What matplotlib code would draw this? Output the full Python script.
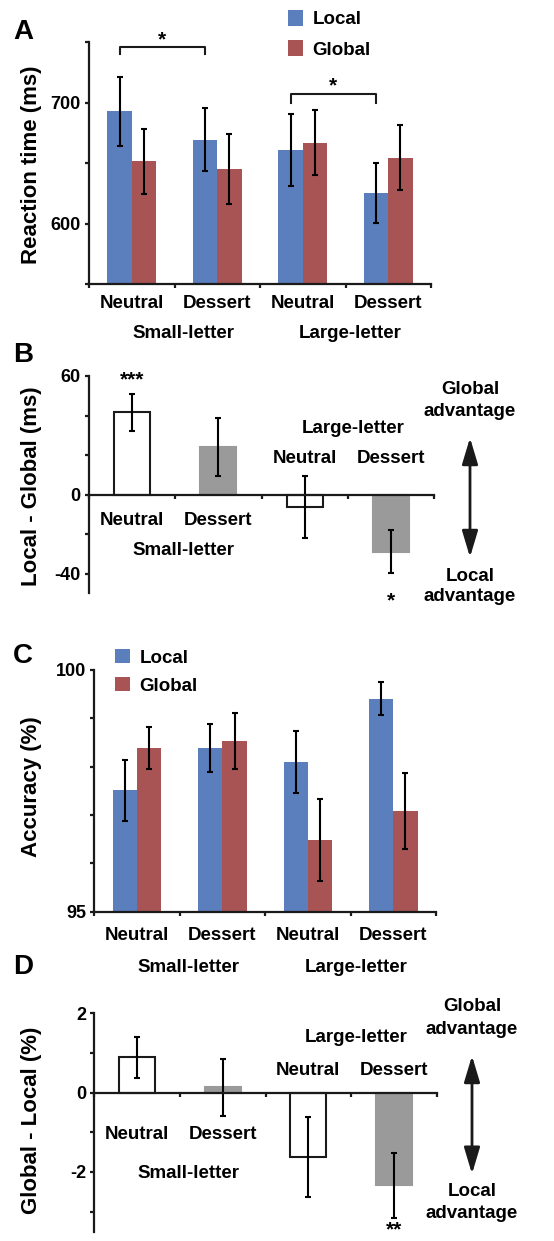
import matplotlib
matplotlib.use('Agg')
import matplotlib.pyplot as plt
import matplotlib.transforms as mtransforms
from matplotlib.patches import Patch
import numpy as np

plt.rcParams['font.family'] = ['Liberation Sans', 'DejaVu Sans']
plt.rcParams['font.weight'] = 'bold'
plt.rcParams['axes.unicode_minus'] = False

# ---------------- data ----------------
conditions = ['Neutral', 'Dessert', 'Neutral', 'Dessert']
groups = ['Small-letter', 'Large-letter']
series = ['Local', 'Global']

rt_local = [692.8, 669.4, 660.9, 625.3]
rt_local_err = [28.6, 25.8, 30.0, 25.0]
rt_global = [651.5, 645.2, 666.7, 654.3]
rt_global_err = [27.0, 29.0, 27.0, 27.0]

rt_diff = [41.7, 24.2, -6.4, -28.9]
rt_diff_err = [9.3, 14.6, 15.7, 11.0]
rt_diff_sig = ['***', '', '', '*']

acc_local = [97.51, 98.39, 98.09, 99.41]
acc_local_err = [0.63, 0.49, 0.64, 0.345]
acc_global = [98.39, 98.53, 96.49, 97.08]
acc_global_err = [0.44, 0.58, 0.85, 0.78]

acc_diff = [0.89, 0.13, -1.63, -2.34]
acc_diff_err = [0.525, 0.72, 1.01, 0.81]
acc_diff_sig = ['', '', '', '**']

rt_yticks = [550, 600, 650, 700, 750]
rt_yticklabels = ['', '600', '', '700', '']
rtd_yticks = [-40, -20, 0, 20, 40, 60]
rtd_yticklabels = ['-40', '', '0', '', '', '60']
acc_yticks = [95, 96, 97, 98, 99, 100]
acc_yticklabels = ['95', '', '', '', '', '100']
accd_yticks = [-3, -2, -1, 0, 1, 2]
accd_yticklabels = ['', '-2', '', '0', '', '2']

# ---------------- style ----------------
BLUE = '#5b7fbc'
RED = '#a95454'
GRAY = '#9a9a9a'
DARK = '#1a1a1a'
FS = 13.5

W, H = 554, 1241
fig = plt.figure(figsize=(W / 100, H / 100), dpi=100)


def fx(x):
    return x / W


def fy(y):
    return 1 - y / H


def add_ax(left, top, right, bottom):
    return fig.add_axes([fx(left), fy(bottom), (right - left) / W, (bottom - top) / H])


def style(ax, yticks, ylabels, zero_axis=False):
    for s in ['top', 'right']:
        ax.spines[s].set_visible(False)
    for s in ['left', 'bottom']:
        ax.spines[s].set_linewidth(1.6)
        ax.spines[s].set_color(DARK)
    if zero_axis:
        ax.spines['bottom'].set_position(('data', 0))
    ax.set_xlim(-0.5, 3.5)
    ax.set_xticks([-0.5, 0.5, 1.5, 2.5, 3.5])
    ax.set_xticklabels([])
    ax.set_yticks(yticks)
    ax.set_yticklabels(ylabels)
    ax.tick_params(axis='both', direction='out', length=3, width=1.6, color=DARK,
                   labelsize=13, pad=3)
    ax.patch.set_alpha(0)


def fig_text(x, y, s, size=FS, **kw):
    fig.text(fx(x), fy(y), s, ha='center', va='center', fontsize=size,
             fontweight='bold', **kw)


def labels_at(ax, xs, labs, ypix, size=FS):
    tr = mtransforms.blended_transform_factory(ax.transData, fig.transFigure)
    for xv, lab in zip(xs, labs):
        ax.text(xv, fy(ypix + 2), lab, transform=tr, ha='center', va='center',
                fontsize=size, fontweight='bold', clip_on=False)


def arrow(x, y0, y1):
    fig.patches.append(matplotlib.patches.FancyArrowPatch(
        (fx(x), fy(y0)), (fx(x), fy(y1)), transform=fig.transFigure,
        arrowstyle='<|-|>,head_length=1.0,head_width=0.3', mutation_scale=16,
        color=DARK, lw=2.0))


ekw = dict(ecolor='black', elinewidth=1.5, capsize=2.5, capthick=1.5)
x = np.arange(4)
w = 0.285
wd = 0.42

# ---------------- Panel A ----------------
axA = add_ax(89, 42, 431, 284)
style(axA, rt_yticks, rt_yticklabels)
axA.set_ylim(550, 750)
axA.bar(x - w / 2, rt_local, w, yerr=rt_local_err, color=BLUE, error_kw=ekw)
axA.bar(x + w / 2, rt_global, w, yerr=rt_global_err, color=RED, error_kw=ekw)
# significance brackets
for (i, j, yb, ytick, ys) in [(0, 1, 745.5, 740, 752), (2, 3, 707, 700, 713.5)]:
    xa, xb = x[i] - w / 2, x[j] - w / 2
    axA.plot([xa, xa, xb, xb], [ytick, yb, yb, ytick], color=DARK, lw=1.5, clip_on=False)
    axA.text((xa + xb) / 2, ys, '*', ha='center', va='center', fontsize=15,
             fontweight='bold', clip_on=False)
labels_at(axA, x, conditions, 301.7)
labels_at(axA, [0.6, 2.56], groups, 331.7)
fig.legend([Patch(facecolor=BLUE), Patch(facecolor=RED)], series,
           loc='upper left', bbox_to_anchor=(fx(288), fy(10)), frameon=False,
           fontsize=FS, handlelength=0.8, handleheight=0.9, handletextpad=0.5,
           labelspacing=0.65, borderpad=0, borderaxespad=0)
fig_text(23, 32, 'A', size=20)
fig_text(32, 165, 'Reaction time (ms)', size=16, rotation=90)

# ---------------- Panel B ----------------
axB = add_ax(89, 376, 434, 593.3)
style(axB, rtd_yticks, rtd_yticklabels, zero_axis=True)
axB.set_ylim(-50, 60)
fills = ['white', GRAY, 'white', GRAY]
edges = [DARK, GRAY, DARK, GRAY]
axB.bar(x, rt_diff, wd, color=fills, edgecolor=edges, linewidth=1.5)
axB.errorbar(x, rt_diff, yerr=rt_diff_err, fmt='none', **ekw)
for xi, v, e, s in zip(x, rt_diff, rt_diff_err, rt_diff_sig):
    if s:
        yy = 58 if v > 0 else -54
        axB.text(xi, yy, s, ha='center', va='center', fontsize=15,
                 fontweight='bold', clip_on=False)
labels_at(axB, x[:2], conditions[:2], 518.3)
labels_at(axB, [0.6], groups[:1], 548.3)
labels_at(axB, [2.56], groups[1:], 426.7)
labels_at(axB, x[2:], conditions[2:], 456.7)
fig_text(470, 390, 'Global')
fig_text(470, 411.7, 'advantage')
arrow(470, 435, 560)
fig_text(470, 576.7, 'Local')
fig_text(470, 596.7, 'advantage')
fig_text(23, 355, 'B', size=20)
fig_text(32, 486, 'Local - Global (ms)', size=16, rotation=90)

# ---------------- Panel C ----------------
axC = add_ax(94.3, 670, 436, 911.7)
style(axC, acc_yticks, acc_yticklabels)
axC.set_ylim(95, 100)
axC.bar(x - w / 2, acc_local, w, yerr=acc_local_err, color=BLUE, error_kw=ekw)
axC.bar(x + w / 2, acc_global, w, yerr=acc_global_err, color=RED, error_kw=ekw)
labels_at(axC, x, conditions, 933.3)
labels_at(axC, [0.6, 2.56], groups, 965)
axC.legend([Patch(facecolor=BLUE), Patch(facecolor=RED)], series,
           loc='upper left', bbox_to_anchor=(fx(115), fy(649)),
           bbox_transform=fig.transFigure, frameon=False,
           fontsize=FS, handlelength=0.8, handleheight=0.8, handletextpad=0.5,
           labelspacing=0.55, borderpad=0, borderaxespad=0)
fig_text(23, 656, 'C', size=20)
fig_text(32, 787, 'Accuracy (%)', size=16, rotation=90)

# ---------------- Panel D ----------------
axD = add_ax(94.3, 1013.3, 436.7, 1231.5)
style(axD, accd_yticks, accd_yticklabels, zero_axis=True)
axD.set_ylim(-3.5, 2)
axD.bar(x, acc_diff, wd, color=fills, edgecolor=edges, linewidth=1.5)
axD.errorbar(x, acc_diff, yerr=acc_diff_err, fmt='none', **ekw)
for xi, v, e, s in zip(x, acc_diff, acc_diff_err, acc_diff_sig):
    if s:
        axD.text(xi, -3.47, s, ha='center', va='center', fontsize=15,
                 fontweight='bold', clip_on=False)
labels_at(axD, x[:2], conditions[:2], 1132.7)
labels_at(axD, [0.6], groups[:1], 1171.7)
labels_at(axD, [2.56], groups[1:], 1036)
labels_at(axD, x[2:], conditions[2:], 1068.3)
fig_text(472, 1006.7, 'Global')
fig_text(472, 1029.3, 'advantage')
arrow(472, 1053, 1176.7)
fig_text(472, 1191.7, 'Local')
fig_text(472, 1213.3, 'advantage')
fig_text(23, 967, 'D', size=20)
fig_text(32, 1120, 'Global - Local (%)', size=16, rotation=90)

fig.savefig('out.png', dpi=100)
